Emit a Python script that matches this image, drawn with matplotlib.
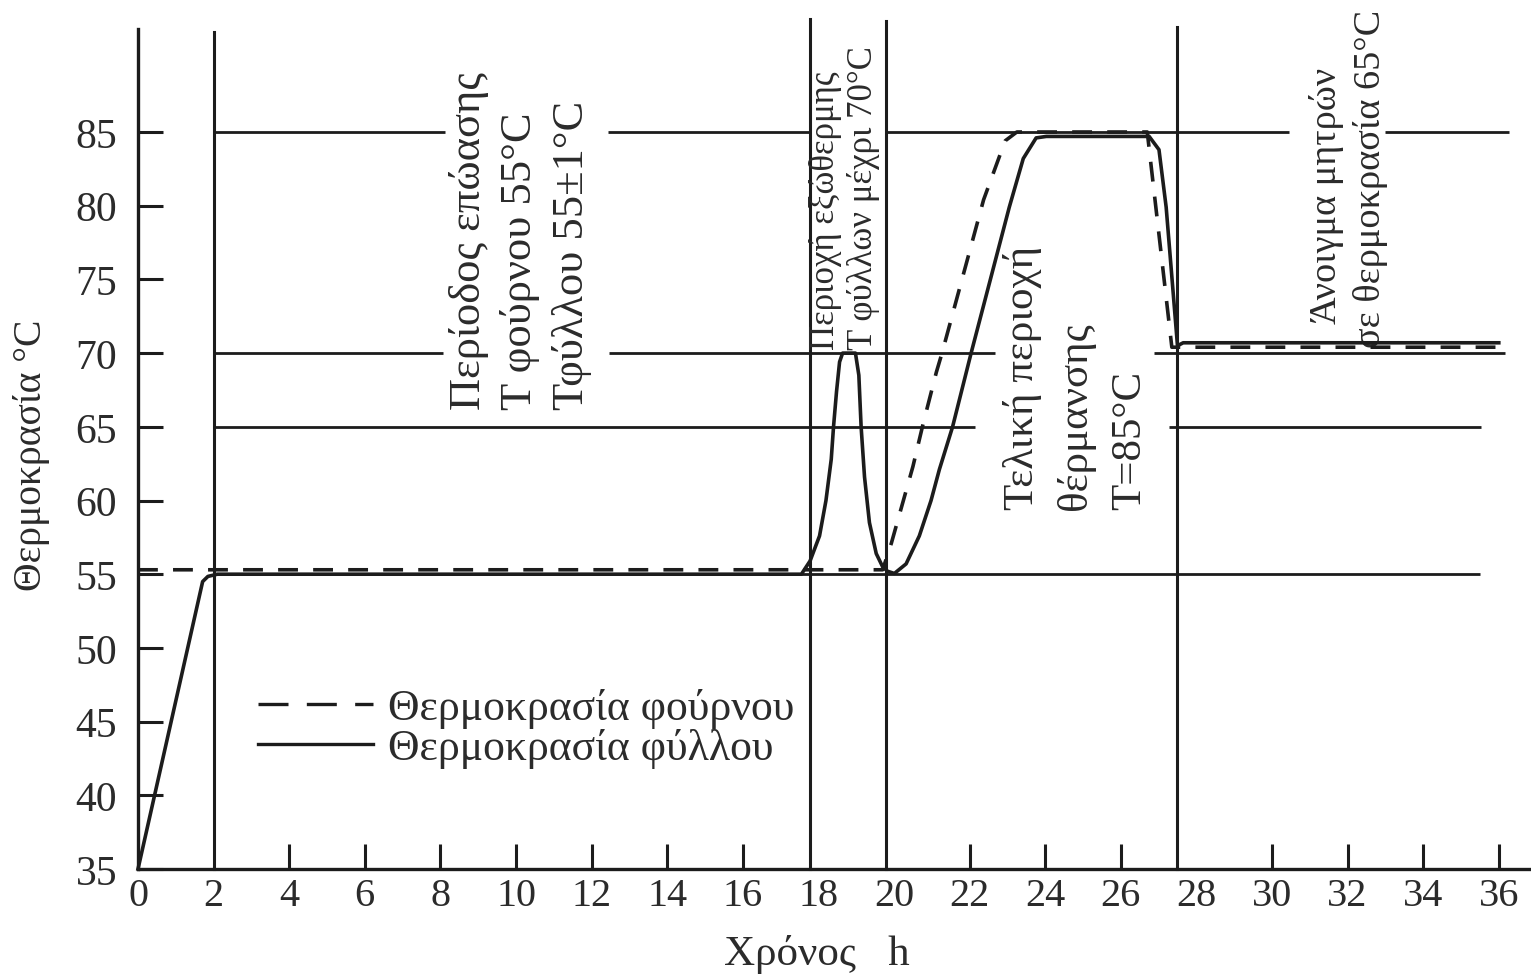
import matplotlib
matplotlib.use('Agg')
import matplotlib.pyplot as plt
from matplotlib.lines import Line2D

plt.rcParams['font.family'] = ['Liberation Serif', 'DejaVu Serif']

# ---------------- data ----------------
x_tick_values = list(range(0, 37, 2))
x_ticks_hidden = [0, 2, 18, 20, 28]          # no tick mark where a boundary line sits
y_tick_values = list(range(35, 90, 5))

# oven temperature (dashed)
oven_time = [0.0, 19.7, 19.93, 20.5, 20.77, 21.12, 21.27, 22.37, 22.94, 23.25,
             26.7, 27.35, 27.5, 36.0]
oven_temp = [55.3, 55.3, 57.1, 62.3, 65.2, 68.7, 70.0, 80.4, 84.4, 85.0,
             85.0, 70.4, 70.4, 70.4]

# leaf temperature (solid)
leaf_time = [0.0, 1.71, 1.85, 2.1, 17.55, 17.78, 18.03, 18.2, 18.34, 18.4,
             18.48, 18.56, 18.64, 18.98, 19.07, 19.13, 19.22, 19.35, 19.53, 19.7,
             19.83, 20.01, 20.32, 20.67, 20.98, 21.2, 21.55, 22.04, 23.05, 23.42,
             23.76, 24.03, 26.75, 27.01, 27.2, 27.5, 27.65, 36.0]
leaf_temp = [35.0, 54.5, 54.85, 55.0, 55.0, 55.9, 57.6, 60.0, 62.8, 65.0,
             67.4, 69.4, 70.0, 70.0, 68.5, 65.0, 61.6, 58.5, 56.4, 55.5,
             55.2, 55.05, 55.7, 57.6, 60.0, 62.1, 65.0, 70.0, 79.9, 83.2,
             84.6, 84.7, 84.7, 83.8, 79.9, 70.5, 70.7, 70.7]

# phase boundary lines (time) and how high they reach
boundary_time = [2.0, 17.77, 19.79, 27.49]
boundary_top = [91.8, 92.7, 92.5, 92.1]

# horizontal reference levels and their drawn segments (start, end)
ref_levels = [85, 70, 65, 55]
ref_segments = [
    [(2.0, 8.12), (12.43, 17.77), (19.79, 30.45), (32.99, 36.27)],
    [(2.0, 8.08), (12.47, 22.66), (26.87, 36.17)],
    [(2.0, 22.15), (27.27, 35.54)],
    [(2.0, 35.5)],
]

legend_labels = ['Θερμοκρασία φούρνου', 'Θερμοκρασία φύλλου']

# ---------------- figure ----------------
W, H = 1531, 979
fig = plt.figure(figsize=(W / 100, H / 100), dpi=100)
fig.patch.set_facecolor('white')
x0, x_axis_px, top_px = 138, 870, 30
ax = fig.add_axes([x0 / W, (H - x_axis_px) / H, (W - x0) / W, (x_axis_px - top_px) / H])
ax.set_xlim(0, (W - x0) / 37.8)
ax.set_ylim(35, 35 + (x_axis_px - top_px) / 14.74)

ink = '#1c1c1c'
txt = '#2b2b2b'

for s in ['top', 'right']:
    ax.spines[s].set_visible(False)
for s in ['left', 'bottom']:
    ax.spines[s].set_linewidth(2.4)
    ax.spines[s].set_color(ink)

# reference lines
for lvl, segs in zip(ref_levels, ref_segments):
    for a, b in segs:
        ax.hlines(lvl, a, b, colors=ink, linewidth=2.0)

# boundary lines
for t, top in zip(boundary_time, boundary_top):
    ax.plot([t, t], [35, top], color=ink, linewidth=2.2, clip_on=False)

# curves
ax.plot(oven_time, oven_temp, color=ink, linewidth=2.6, linestyle=(0, (5.5, 4.2)),
        clip_on=False, zorder=4)
ax.plot(leaf_time, leaf_temp, color=ink, linewidth=2.6, solid_joinstyle='round',
        clip_on=False, zorder=5)

# ticks
ax.set_xticks(x_tick_values)
ax.set_xticklabels([str(v) for v in x_tick_values])
ax.set_yticks(y_tick_values)
ax.set_yticklabels([str(v) for v in y_tick_values])
ax.tick_params(axis='x', direction='in', length=18, width=2.2, color=ink,
               labelsize=29, labelcolor=txt, pad=6)
ax.tick_params(axis='y', direction='in', length=18, width=2.2, color=ink,
               labelsize=30, labelcolor=txt, pad=15)
for tk, v in zip(ax.xaxis.get_major_ticks(), x_tick_values):
    if v in x_ticks_hidden:
        tk.tick1line.set_visible(False)

# axis labels
ax.set_xlabel('Χρόνος   h', fontsize=31, color=txt)
ax.xaxis.set_label_coords((817 - x0) / (W - x0), (x_axis_px - 955) / (x_axis_px - top_px))
ax.xaxis.label.set_verticalalignment('center')
ax.set_ylabel('Θερμοκρασία °C', fontsize=28.5, color=txt)
ax.yaxis.set_label_coords((32 - x0) / (W - x0), (x_axis_px - 455) / (x_axis_px - top_px))
ax.yaxis.label.set_verticalalignment('center')
ax.yaxis.label.set_horizontalalignment('center')

# annotations (rotated)
for xx, s in zip([8.76, 10.11, 11.48],
                 ['Περίοδος επώασης', 'Τ φούρνου 55°C', 'Τφύλλου 55±1°C']):
    ax.text(xx, 66.2, s, rotation=90, ha='center', va='bottom', fontsize=32, color=txt)
for xx, s in zip([18.2, 19.18], ['Περιοχή εξώθερμης', 'Τ φύλλων μέχρι 70°C']):
    ax.text(xx, 70.3, s, rotation=90, ha='center', va='bottom', fontsize=25,
            color=txt, clip_on=False)
for xx, s in zip([23.41, 24.81, 26.24], ['Τελική περιοχή', 'θέρμανσης', 'Τ=85°C']):
    ax.text(xx, 59.4, s, rotation=90, ha='center', va='bottom', fontsize=31, color=txt)
for xx, yy, s in zip([31.45, 32.6], [80.7, 81.9],
                     ['Άνοιγμα μητρών', 'σε θερμοκρασία 65°C']):
    ax.text(xx, yy, s, rotation=90, ha='center', va='center', fontsize=27.5,
            color=txt, clip_on=False)

# legend
h_oven = Line2D([], [], color=ink, linewidth=2.4, linestyle=(0, (9, 5.5)))
h_leaf = Line2D([], [], color=ink, linewidth=2.4)
ax.legend([h_oven, h_leaf], legend_labels, loc='center left',
          bbox_to_anchor=(258 / W, 1 - 729 / H), bbox_transform=fig.transFigure,
          frameon=False, fontsize=31.5, handlelength=2.63, handletextpad=0.34,
          labelspacing=0.0, borderpad=0, borderaxespad=0, labelcolor=txt)

fig.savefig('out.png', dpi=100, facecolor='white')
